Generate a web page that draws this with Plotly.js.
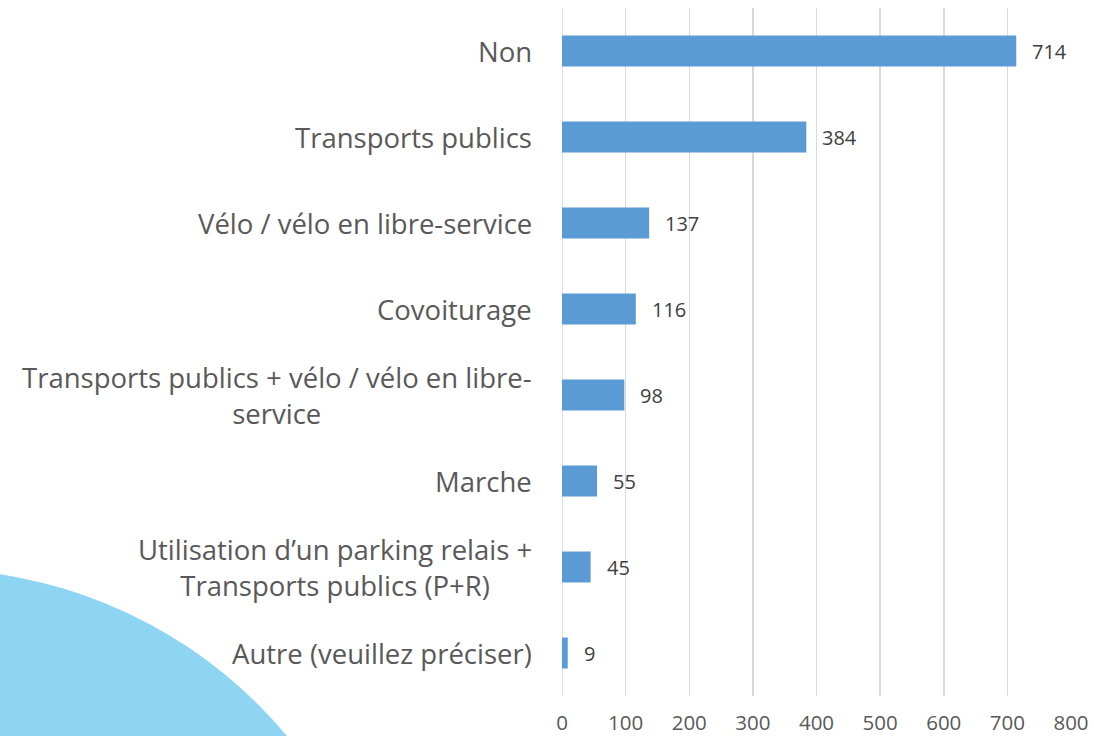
<!DOCTYPE html>
<html>
<head>
<meta charset="utf-8">
<script src="https://cdn.plot.ly/plotly-3.0.1.min.js"></script>
<style>html,body{margin:0;padding:0;background:#fff;}#chart{width:1094px;height:736px;}</style>
</head>
<body>
<div id="chart"></div>
<script>
const categories = [
  "Non",
  "Transports publics",
  "Vélo / vélo en libre-service",
  "Covoiturage",
  "Transports publics + vélo / vélo en libre-<br>service",
  "Marche",
  "Utilisation d’un parking relais +<br>Transports publics (P+R)",
  "Autre (veuillez préciser)"
];
const values = [714, 384, 137, 116, 98, 55, 45, 9];
const tickValues = [0, 100, 200, 300, 400, 500, 600, 700, 800];

const catAnnotations = categories.map((c, i) => ({
  x: 0, y: c, xref: 'x', yref: 'y', text: c, showarrow: false,
  xanchor: 'right', yanchor: 'middle', align: 'center', xshift: -28,
  font: {family: 'Open Sans, sans-serif', size: 27.5, color: '#595959'}
}));
const valAnnotations = categories.map((c, i) => ({
  x: values[i], y: c, xref: 'x', yref: 'y', text: String(values[i]), showarrow: false,
  xanchor: 'left', yanchor: 'middle', xshift: 14,
  font: {family: 'Open Sans, sans-serif', size: 20, color: '#404040'}
}));

const trace = {
  type: 'bar', orientation: 'h', x: values, y: categories,
  marker: {color: '#5B9BD5'}, width: 0.36, hoverinfo: 'skip'
};

const layout = {
  width: 1094, height: 736,
  margin: {l: 562, r: 23, t: 8, b: 40},
  paper_bgcolor: '#ffffff', plot_bgcolor: 'rgba(0,0,0,0)',
  showlegend: false,
  xaxis: {
    range: [0, 800], tickvals: tickValues, ticktext: tickValues.map(String),
    showgrid: true, gridcolor: '#D9D9D9', gridwidth: 1.5,
    zeroline: false, showline: false, ticks: '',
    tickfont: {family: 'Open Sans, sans-serif', size: 20.5, color: '#595959'},
    ticklabelstandoff: 12, fixedrange: true
  },
  yaxis: {
    autorange: 'reversed', showticklabels: false, showgrid: false,
    zeroline: false, showline: false, ticks: '', fixedrange: true
  },
  shapes: [
    {type: 'line', xref: 'x', yref: 'paper', x0: 0, x1: 0, y0: 0, y1: 1,
     line: {color: '#D9D9D9', width: 1.5}, layer: 'below'},
    {type: 'circle', xref: 'paper', yref: 'paper', xsizemode: 'pixel', ysizemode: 'pixel',
     xanchor: 0, yanchor: 0,
     x0: -70 - 465 - 562, x1: -70 + 465 - 562, y0: -338 - 465, y1: -338 + 465,
     fillcolor: '#8ED4F3', line: {width: 0}, layer: 'below'}
  ],
  annotations: catAnnotations.concat(valAnnotations)
};

Plotly.newPlot('chart', [trace], layout, {displayModeBar: false, staticPlot: true});
</script>
</body>
</html>
